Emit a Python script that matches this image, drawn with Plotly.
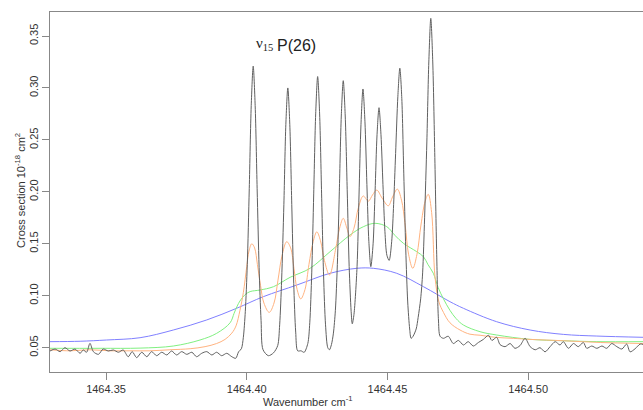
import plotly.graph_objects as go

# ---------------- data ----------------
# black: measured spectrum
black_w = [
    1464.3301, 1464.3319, 1464.3337, 1464.3354, 1464.3372, 1464.3390, 1464.3408, 1464.3419,
    1464.3431, 1464.3443, 1464.3455, 1464.3473, 1464.3490, 1464.3508, 1464.3526, 1464.3544,
    1464.3561, 1464.3579, 1464.3593, 1464.3609, 1464.3627, 1464.3645, 1464.3662, 1464.3680,
    1464.3698, 1464.3716, 1464.3733, 1464.3751, 1464.3769, 1464.3787, 1464.3805, 1464.3822,
    1464.3840, 1464.3858, 1464.3876, 1464.3893, 1464.3911, 1464.3929, 1464.3947, 1464.3961,
    1464.3971, 1464.3981,
    1464.3988, 1464.3995, 1464.4002, 1464.4009, 1464.4016, 1464.4023, 1464.4030, 1464.4037,
    1464.4044, 1464.4051, 1464.4058,
    1464.4077, 1464.4095,
    1464.4110, 1464.4117, 1464.4124, 1464.4132, 1464.4139, 1464.4146, 1464.4153, 1464.4160,
    1464.4167, 1464.4174, 1464.4181,
    1464.4193, 1464.4204,
    1464.4217, 1464.4224, 1464.4231, 1464.4238, 1464.4245, 1464.4252, 1464.4259, 1464.4266,
    1464.4273, 1464.4280, 1464.4288,
    1464.4294,
    1464.4301, 1464.4308, 1464.4315, 1464.4322, 1464.4329, 1464.4336, 1464.4343, 1464.4350,
    1464.4357, 1464.4364, 1464.4371, 1464.4375, 1464.4381,
    1464.4392, 1464.4399, 1464.4406, 1464.4413, 1464.4420, 1464.4427, 1464.4434, 1464.4441,
    1464.4449, 1464.4456, 1464.4463, 1464.4470, 1464.4477, 1464.4484, 1464.4491, 1464.4498,
    1464.4506,
    1464.4515, 1464.4522, 1464.4529, 1464.4537, 1464.4544, 1464.4551, 1464.4558, 1464.4565,
    1464.4572, 1464.4579, 1464.4584,
    1464.4591, 1464.4602, 1464.4609, 1464.4618, 1464.4625, 1464.4632, 1464.4640, 1464.4647,
    1464.4654, 1464.4661, 1464.4668, 1464.4675, 1464.4681, 1464.4687,
    1464.4699, 1464.4716, 1464.4734, 1464.4752, 1464.4770, 1464.4787, 1464.4805, 1464.4823,
    1464.4841, 1464.4859, 1464.4871, 1464.4888, 1464.4900, 1464.4918, 1464.4936, 1464.4953,
    1464.4971, 1464.4989, 1464.5007, 1464.5025, 1464.5042, 1464.5060, 1464.5078, 1464.5096,
    1464.5113, 1464.5125, 1464.5143, 1464.5161, 1464.5178, 1464.5196, 1464.5208, 1464.5226,
    1464.5244, 1464.5262, 1464.5279, 1464.5297, 1464.5315, 1464.5333, 1464.5350, 1464.5362,
    1464.5380, 1464.5398, 1464.5410,
]
black_v = [
    0.0468, 0.0487, 0.0462, 0.0500, 0.0468, 0.0487, 0.0446, 0.0478,
    0.0456, 0.0542, 0.0462, 0.0436, 0.0487, 0.0468, 0.0478, 0.0456,
    0.0478, 0.0413, 0.0462, 0.0404, 0.0456, 0.0413, 0.0462, 0.0423,
    0.0456, 0.0430, 0.0468, 0.0430, 0.0462, 0.0436, 0.0456, 0.0413,
    0.0446, 0.0462, 0.0430, 0.0456, 0.0423, 0.0446, 0.0413, 0.0398,
    0.0460, 0.0490,
    0.060, 0.085, 0.130, 0.203, 0.283, 0.321, 0.283, 0.203,
    0.127, 0.076, 0.048,
    0.0423, 0.0450,
    0.052, 0.072, 0.115, 0.188, 0.265, 0.300, 0.265, 0.188,
    0.112, 0.065, 0.047,
    0.047, 0.0455,
    0.054, 0.074, 0.122, 0.198, 0.275, 0.311, 0.275, 0.198,
    0.120, 0.072, 0.050,
    0.048,
    0.053, 0.064, 0.086, 0.130, 0.200, 0.273, 0.307, 0.273,
    0.202, 0.128, 0.085, 0.073, 0.082,
    0.128, 0.197, 0.265, 0.299, 0.268, 0.207, 0.152, 0.128,
    0.150, 0.200, 0.255, 0.281, 0.255, 0.207, 0.162, 0.139,
    0.134,
    0.152, 0.188, 0.237, 0.292, 0.319, 0.290, 0.218, 0.145,
    0.094, 0.068, 0.059,
    0.061, 0.068, 0.079, 0.097, 0.122, 0.175, 0.248, 0.325,
    0.367, 0.325, 0.238, 0.140, 0.078, 0.061,
    0.059, 0.061, 0.054, 0.057, 0.0526, 0.0558, 0.0516, 0.055,
    0.058, 0.062, 0.057, 0.060, 0.053, 0.051, 0.054, 0.0494,
    0.052, 0.059, 0.051, 0.048, 0.050, 0.046, 0.051, 0.0558,
    0.0526, 0.0558, 0.0494, 0.054, 0.051, 0.055, 0.0494, 0.0516,
    0.0494, 0.0516, 0.0494, 0.054, 0.051, 0.0487, 0.0535, 0.046,
    0.049, 0.0535, 0.053,
]

# orange
orange_w = [
    1464.3301, 1464.3372, 1464.3443, 1464.3514, 1464.3585, 1464.3656, 1464.3727, 1464.3799,
    1464.3852, 1464.3893, 1464.3923, 1464.3947, 1464.3962, 1464.3976, 1464.3988, 1464.4000,
    1464.4008, 1464.4018, 1464.4028, 1464.4038, 1464.4049, 1464.4061, 1464.4080, 1464.4097,
    1464.4111, 1464.4125, 1464.4142, 1464.4156, 1464.4168, 1464.4179, 1464.4192, 1464.4207,
    1464.4221, 1464.4236, 1464.4249, 1464.4262, 1464.4276, 1464.4294, 1464.4316, 1464.4330,
    1464.4343, 1464.4356, 1464.4367, 1464.4381, 1464.4397, 1464.4414, 1464.4432, 1464.4447,
    1464.4462, 1464.4481, 1464.4503, 1464.4518, 1464.4535, 1464.4550, 1464.4563, 1464.4575,
    1464.4590, 1464.4605, 1464.4619, 1464.4634, 1464.4645, 1464.4657, 1464.4669, 1464.4683,
    1464.4699, 1464.4722, 1464.4758, 1464.4793, 1464.4829, 1464.4882, 1464.4947, 1464.5007,
    1464.5125, 1464.5256, 1464.5408,
]
orange_v = [
    0.048, 0.047, 0.048, 0.047, 0.047, 0.047, 0.048, 0.049,
    0.051, 0.054, 0.058, 0.064, 0.071, 0.086, 0.103, 0.128,
    0.143, 0.150, 0.146, 0.130, 0.110, 0.093, 0.084, 0.093,
    0.115, 0.138, 0.152, 0.146, 0.126, 0.106, 0.097, 0.106,
    0.130, 0.152, 0.1615, 0.153, 0.134, 0.120, 0.145, 0.165,
    0.1745, 0.165, 0.157, 0.165, 0.185, 0.196, 0.191, 0.197,
    0.2017, 0.194, 0.1866, 0.195, 0.2026, 0.192, 0.168, 0.140,
    0.1264, 0.140, 0.168, 0.191, 0.1976, 0.180, 0.118, 0.094,
    0.084, 0.074, 0.067, 0.063, 0.062, 0.060, 0.059, 0.058,
    0.0567, 0.055, 0.054,
]

# green
green_w = [
    1464.3301, 1464.3479, 1464.3621, 1464.3739, 1464.3834, 1464.3893, 1464.3941, 1464.3955,
    1464.3966, 1464.3976, 1464.3994, 1464.4012, 1464.4047, 1464.4095, 1464.4154, 1464.4225,
    1464.4296, 1464.4367, 1464.4414, 1464.4456, 1464.4498, 1464.4527, 1464.4557, 1464.4604,
    1464.4628, 1464.4644, 1464.4663, 1464.4680, 1464.4699, 1464.4722, 1464.4744, 1464.4770,
    1464.4829, 1464.4888, 1464.5007, 1464.5125, 1464.5244, 1464.5408,
]
green_v = [
    0.0494, 0.0494, 0.0496, 0.0516, 0.0574, 0.0638, 0.074, 0.083,
    0.090, 0.095, 0.101, 0.104, 0.1055, 0.1087, 0.1177, 0.1264,
    0.1424, 0.1584, 0.1664, 0.1697, 0.1664, 0.158, 0.1504, 0.1424,
    0.1375, 0.130, 0.1216, 0.108, 0.097, 0.086, 0.078, 0.0718,
    0.0654, 0.0622, 0.058, 0.0567, 0.0558, 0.0558,
]

# blue
blue_w = [
    1464.3301, 1464.3408, 1464.3502, 1464.3621, 1464.3739, 1464.3858, 1464.3964, 1464.4059,
    1464.4178, 1464.4296, 1464.4391, 1464.4450, 1464.4533, 1464.4628, 1464.4722, 1464.4770,
    1464.4888, 1464.5007, 1464.5125, 1464.5244, 1464.5408,
]
blue_v = [
    0.0558, 0.0562, 0.0574, 0.0596, 0.067, 0.0767, 0.0879, 0.0991,
    0.1103, 0.1216, 0.1264, 0.1264, 0.1216, 0.1087, 0.0943, 0.0879,
    0.075, 0.067, 0.0628, 0.0612, 0.060,
]

x_ticks = [1464.35, 1464.40, 1464.45, 1464.50]
x_tick_labels = ["1464.35", "1464.40", "1464.45", "1464.50"]
y_ticks = [0.05, 0.10, 0.15, 0.20, 0.25, 0.30, 0.35]
y_tick_labels = ["0.05", "0.10", "0.15", "0.20", "0.25", "0.30", "0.35"]

# ---------------- figure ----------------
fig = go.Figure()
fig.add_trace(go.Scatter(x=blue_w, y=blue_v, mode="lines",
                         line=dict(color="#8080ff", width=1, shape="spline")))
fig.add_trace(go.Scatter(x=green_w, y=green_v, mode="lines",
                         line=dict(color="#80f080", width=1, shape="spline")))
fig.add_trace(go.Scatter(x=orange_w, y=orange_v, mode="lines",
                         line=dict(color="#ffb380", width=1, shape="spline")))
fig.add_trace(go.Scatter(x=black_w, y=black_v, mode="lines",
                         line=dict(color="#606060", width=1, shape="spline", smoothing=0.8)))

font_main = "Liberation Sans, Arial, sans-serif"

fig.add_annotation(x=1464.4027, y=0.3425, xref="x", yref="y", xanchor="left", yanchor="middle",
                   text="ν<sub>15</sub>", showarrow=False,
                   font=dict(family="Liberation Serif, Times New Roman, serif", size=15, color="#222222"))
fig.add_annotation(x=1464.4101, y=0.3404, xref="x", yref="y", xanchor="left", yanchor="middle",
                   text="P(26)", showarrow=False,
                   font=dict(family=font_main, size=16, color="#222222"))

# axis titles
fig.add_annotation(x=-0.0506, y=0.5056, xref="paper", yref="paper", xanchor="center", yanchor="middle",
                   text="Cross section 10<sup>-18</sup> cm<sup>2</sup>", textangle=-90, showarrow=False,
                   font=dict(family=font_main, size=11, color="#333333"))
fig.add_annotation(x=0.435, y=-0.0806, xref="paper", yref="paper", xanchor="center", yanchor="middle",
                   text="Wavenumber cm<sup>-1</sup>", showarrow=False,
                   font=dict(family=font_main, size=11, color="#333333"))

fig.update_layout(
    width=643, height=410,
    margin=dict(l=50, r=0, t=12, b=38, autoexpand=False),
    paper_bgcolor="white", plot_bgcolor="white",
    showlegend=False,
    font=dict(family=font_main, size=11, color="#333333"),
)
fig.update_xaxes(range=[1464.3301, 1464.5408], tickvals=x_ticks, ticktext=x_tick_labels,
                 showgrid=False, zeroline=False, showline=True, mirror=True, automargin=False,
                 linecolor="#888888", linewidth=1, ticks="outside", ticklen=7, tickcolor="#888888",
                 tickfont=dict(size=11, color="#333333"))
fig.update_yaxes(range=[0.0266, 0.3731], tickvals=y_ticks, ticktext=y_tick_labels,
                 showgrid=False, zeroline=False, showline=True, mirror=False, automargin=False,
                 linecolor="#888888", linewidth=1, ticks="outside", ticklen=7, tickcolor="#888888",
                 tickangle=-90, tickfont=dict(size=11, color="#333333"))

fig.write_html("out.html", config={"displayModeBar": False},
               post_script="document.body.style.margin='0px';document.body.style.overflow='hidden';")
